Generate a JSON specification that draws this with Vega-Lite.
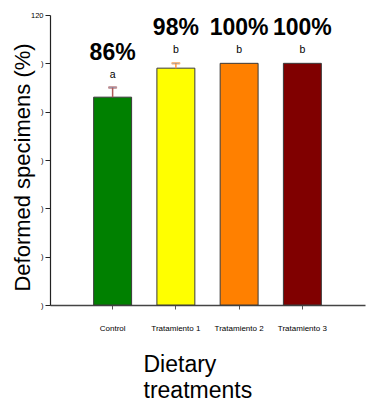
{
  "$schema": "https://vega.github.io/schema/vega-lite/v6.json",
  "autosize": "none",
  "width": 315,
  "height": 290,
  "padding": {"left": 50, "top": 15, "right": 1, "bottom": 99},
  "background": "white",
  "config": {
    "view": {"stroke": null},
    "font": "Liberation Sans",
    "axisY": {"labelOverlap": false, "labelFlush": false}
  },
  "data": {
    "values": [
      {"treatment": "Control", "value": 86, "upper": 90, "pct": "86%", "group": "a"},
      {"treatment": "Tratamiento 1", "value": 98, "upper": 100, "pct": "98%", "group": "b"},
      {"treatment": "Tratamiento 2", "value": 100, "upper": 100, "pct": "100%", "group": "b"},
      {"treatment": "Tratamiento 3", "value": 100, "upper": 100, "pct": "100%", "group": "b"}
    ]
  },
  "encoding": {
    "x": {
      "field": "treatment",
      "type": "nominal",
      "sort": null,
      "scale": {"paddingInner": 0.4, "paddingOuter": 0.69},
      "axis": {
        "title": ["Dietary", "treatments"],
        "titleFont": "Liberation Sans",
        "titleFontSize": 23,
        "titleFontWeight": "normal",
        "titleColor": "black",
        "titleLineHeight": 26,
        "titleAlign": "left",
        "titleX": 93,
        "titleY": 48,
        "titleBaseline": "top",
        "labelAngle": 0,
        "labelFontSize": 8,
        "labelColor": "black",
        "labelPadding": 15,
        "tickSize": 4,
        "tickColor": "#555555",
        "domainColor": "#444444",
        "domainWidth": 1.5
      }
    }
  },
  "layer": [
    {
      "mark": {"type": "bar", "stroke": "#3a3a3a", "strokeWidth": 1},
      "encoding": {
        "y": {
          "field": "value",
          "type": "quantitative",
          "scale": {"domain": [0, 120], "nice": false},
          "axis": {
            "values": [0, 20, 40, 60, 80, 100, 120],
            "labelExpr": "datum.value == 120 ? '120' : ')'",
            "labelOverlap": false,
            "labelFlush": false,
            "labelBound": false,
            "labelFontSize": 7.5,
            "labelColor": "black",
            "labelPadding": 2,
            "labelBaseline": "middle",
            "tickSize": 5,
            "tickColor": "#222222",
            "domainColor": "#222222",
            "domainWidth": 1.2,
            "grid": false,
            "title": "Deformed specimens (%)",
            "titleFont": "Liberation Sans",
            "titleFontSize": 22,
            "titleFontWeight": "normal",
            "titleColor": "black",
            "titleAngle": -90,
            "titleAlign": "center",
            "titleBaseline": "middle",
            "titleX": -28,
            "titleY": 152
          }
        },
        "fill": {
          "field": "treatment",
          "type": "nominal",
          "scale": {
            "domain": ["Control", "Tratamiento 1", "Tratamiento 2", "Tratamiento 3"],
            "range": ["#008000", "#ffff00", "#ff8000", "#800000"]
          },
          "legend": null
        }
      }
    },
    {
      "transform": [{"filter": "datum.upper > datum.value"}],
      "mark": {"type": "rule", "strokeWidth": 1.5},
      "encoding": {
        "y": {"field": "value", "type": "quantitative"},
        "y2": {"field": "upper"},
        "stroke": {
          "field": "treatment",
          "type": "nominal",
          "scale": {
            "domain": ["Control", "Tratamiento 1", "Tratamiento 2", "Tratamiento 3"],
            "range": ["#b05a5a", "#ff9a40", "#ff8000", "#800000"]
          },
          "legend": null
        }
      }
    },
    {
      "transform": [{"filter": "datum.upper > datum.value"}],
      "mark": {"type": "tick", "size": 8, "thickness": 1.5},
      "encoding": {
        "y": {"field": "upper", "type": "quantitative"},
        "stroke": {"field": "treatment", "type": "nominal", "legend": null}
      }
    },
    {
      "mark": {"type": "text", "fontSize": 10.5, "baseline": "alphabetic", "dy": -10, "color": "black"},
      "encoding": {
        "y": {"field": "upper", "type": "quantitative"},
        "text": {"field": "group"}
      }
    },
    {
      "mark": {"type": "text", "fontSize": 23, "fontWeight": "bold", "baseline": "alphabetic", "dy": -28, "color": "black"},
      "encoding": {
        "y": {"field": "upper", "type": "quantitative"},
        "text": {"field": "pct"}
      }
    }
  ]
}
